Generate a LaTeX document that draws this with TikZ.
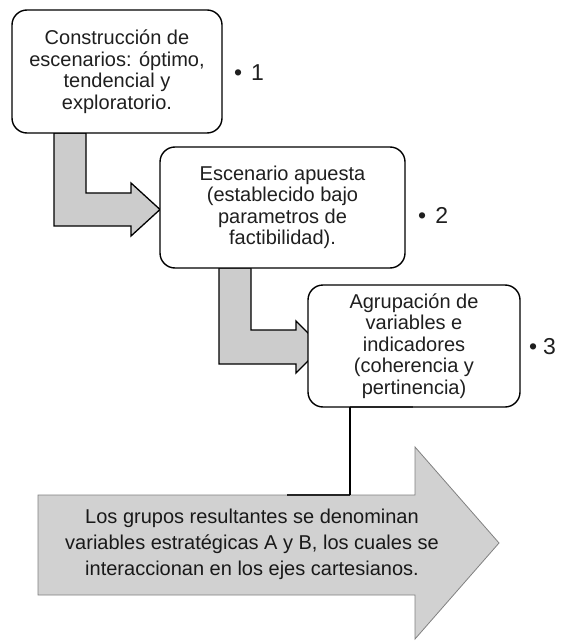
\documentclass[tikz,border=0pt]{standalone}
\usepackage{fontspec}
\setmainfont{Liberation Sans}
\begin{document}
\begin{tikzpicture}[x=1pt,y=-1pt,
  box/.style={draw=black, line width=1.4pt, fill=white, rounded corners=15pt,
    align=center, text=black!88, font=\fontsize{20}{21.5}\selectfont, inner sep=0pt},
  bent/.style={draw=black, line width=1.3pt, fill=black!20, line join=miter},
  big/.style={draw=black!50, line width=0.8pt, fill=black!18},
  num/.style={anchor=west, text=black!88, font=\fontsize{23}{26}\selectfont, inner sep=0pt},
  btext/.style={align=center, text=black!90, font=\fontsize{20}{26}\selectfont, inner sep=0pt}]
\useasboundingbox (0,0) rectangle (562,644);
% bent arrows (drawn under boxes)
\draw[bent] (54,133) -- (86,133) -- (86,193) -- (131,193) -- (131,183) -- (160,209.5)
  -- (131,236) -- (131,226) -- (54,226) -- cycle;
\draw[bent] (219,268) -- (251,268) -- (251,330) -- (296,330) -- (296,321) -- (322,347)
  -- (296,373) -- (296,364) -- (219,364) -- cycle;
% boxes
\node[box, minimum width=210pt, minimum height=123pt] (b1) at (117,71.5)
  {Construcción de\\escenarios: óptimo,\\tendencial y\\exploratorio.};
\node[box, minimum width=245pt, minimum height=121pt] (b2) at (282.5,207.5)
  {Escenario apuesta\\(establecido bajo\\parametros de\\factibilidad).};
\node[box, minimum width=212pt, minimum height=122pt] (b3) at (414,346)
  {Agrupación de\\variables e\\indicadores\\(coherencia y\\pertinencia)};
% numbers
\node[num] (n1) at (234,73) {•\hskip 9pt 1};
\node[num] (n2) at (418,215) {•\hskip 9pt 2};
\node[num] (n3) at (529,347) {•\hskip 6pt 3};
% big arrow
\draw[big] (38,495) -- (415,495) -- (415,447) -- (499,543) -- (415,639) -- (415,595)
  -- (38,595) -- cycle;
\node[btext] (bt) at (252,544)
  {Los grupos resultantes se denominan\\variables estratégicas A y B, los cuales se\\interaccionan en los ejes cartesianos.};
% connector from box 3 to big arrow
\coordinate (c1) at (350,407);
\coordinate (c2) at (350,495);
\coordinate (c3) at (413,407);
\coordinate (c4) at (287,495);
\draw[black!85, line width=2.4pt] (c1) -- (c3);
\draw[black!85, line width=2pt] (c4) -- (c2);
\draw[black, line width=1.3pt] (c1) -- (c2);
\end{tikzpicture}
\end{document}
